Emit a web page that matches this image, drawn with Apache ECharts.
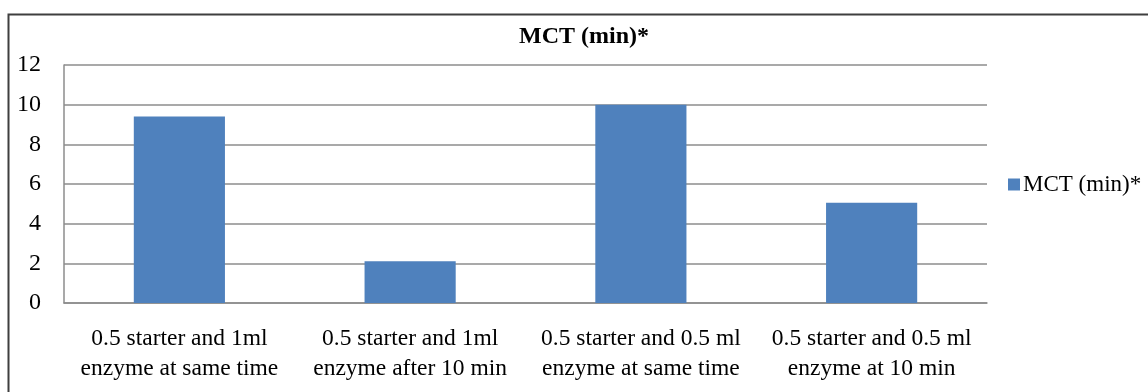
<!DOCTYPE html>
<html>
<head>
<meta charset="utf-8">
<script src="https://cdn.jsdelivr.net/npm/echarts@6/dist/echarts.min.js"></script>
<style>
html,body{margin:0;padding:0;background:#fff;}
#chart{width:1148px;height:392px;}
</style>
</head>
<body>
<div id="chart"></div>
<script>
const categories = [
  "0.5 starter and 1ml\nenzyme at same time",
  "0.5 starter and 1ml\nenzyme after 10 min",
  "0.5 starter and 0.5 ml\nenzyme at same time",
  "0.5 starter and 0.5 ml\nenzyme at 10 min"
];
const seriesName = "MCT (min)*";
const mctValues = [9.4, 2.1, 10, 5.05];
const yTicks = { min: 0, max: 12, interval: 2 };

const FONT = "'Liberation Serif', 'Times New Roman', serif";
const chart = echarts.init(document.getElementById('chart'), null, {renderer: 'canvas'});
chart.setOption({
  backgroundColor: '#fff',
  animation: false,
  graphic: [{
    type: 'rect', left: 6, top: 12, shape: {x: 0, y: 0, width: 1160, height: 400},
    style: {fill: 'none', stroke: '#3f3f3f', lineWidth: 2}, silent: true
  }],
  title: {
    text: seriesName, left: 514, top: 20,
    textStyle: {fontFamily: FONT, fontSize: 24, fontWeight: 'bold', color: '#000'}
  },
  legend: {
    data: [seriesName], orient: 'vertical', left: 1003, top: 168,
    itemWidth: 12, itemHeight: 12, itemGap: 5, icon: 'rect',
    textStyle: {fontFamily: FONT, fontSize: 23, color: '#000', padding: [0,0,0,-2]}
  },
  grid: {left: 64, right: 161, top: 65, bottom: 89, containLabel: false},
  xAxis: {
    type: 'category', data: categories,
    axisLine: {show: true, lineStyle: {color: '#8c8c8c', width: 1.5}},
    axisTick: {show: false},
    axisLabel: {fontFamily: FONT, fontSize: 23.5, color: '#000', margin: 21, lineHeight: 30, interval: 0}
  },
  yAxis: {
    type: 'value', min: yTicks.min, max: yTicks.max, interval: yTicks.interval,
    axisLine: {show: true, lineStyle: {color: '#8c8c8c', width: 1.5}},
    axisTick: {show: false},
    splitLine: {show: true, lineStyle: {color: '#8c8c8c', width: 1.5}},
    axisLabel: {fontFamily: FONT, fontSize: 24, color: '#000', margin: 23}
  },
  series: [{
    name: seriesName, type: 'bar', data: mctValues,
    barCategoryGap: '60.5%',
    itemStyle: {color: '#4F81BD'}
  }]
});
</script>
</body>
</html>
